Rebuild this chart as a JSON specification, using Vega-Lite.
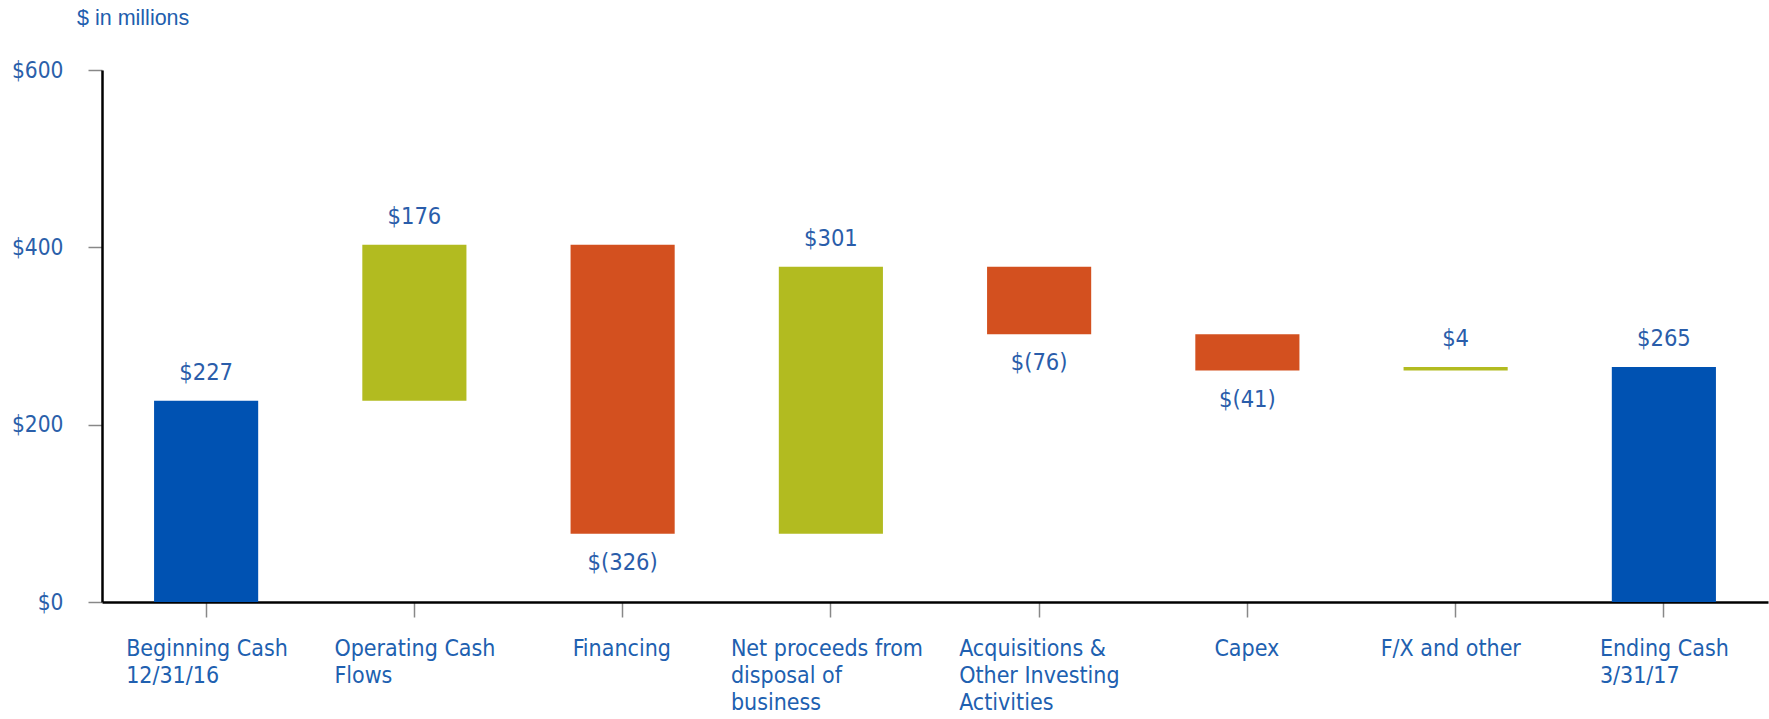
{
  "$schema": "https://vega.github.io/schema/vega-lite/v6.json",
  "autosize": {"type": "none"},
  "width": 1666,
  "height": 532,
  "padding": {"left": 102, "top": 70, "right": 1, "bottom": 117},
  "background": "white",
  "title": {
    "text": "$ in millions",
    "anchor": "start",
    "frame": "group",
    "dx": -25,
    "offset": 30,
    "font": "Liberation Sans",
    "fontSize": 21.5,
    "fontWeight": "normal",
    "color": "#1f5fae"
  },
  "config": {
    "view": {"stroke": null},
    "axis": {"grid": false, "titleFontSize": 0}
  },
  "data": {
    "values": [
      {"cat": "Beginning Cash|12/31/16", "lo": 0, "hi": 227, "type": "total", "label": "$227", "pos": "above"},
      {"cat": "Operating Cash|Flows", "lo": 227, "hi": 403, "type": "increase", "label": "$176", "pos": "above"},
      {"cat": "Financing", "lo": 77, "hi": 403, "type": "decrease", "label": "$(326)", "pos": "below"},
      {"cat": "Net proceeds from|disposal of|business", "lo": 77, "hi": 378, "type": "increase", "label": "$301", "pos": "above"},
      {"cat": "Acquisitions &|Other Investing|Activities", "lo": 302, "hi": 378, "type": "decrease", "label": "$(76)", "pos": "below"},
      {"cat": "Capex", "lo": 261, "hi": 302, "type": "decrease", "label": "$(41)", "pos": "below"},
      {"cat": "F/X and other", "lo": 261, "hi": 265, "type": "increase", "label": "$4", "pos": "above"},
      {"cat": "Ending Cash|3/31/17", "lo": 0, "hi": 265, "type": "total", "label": "$265", "pos": "above"}
    ]
  },
  "encoding": {
    "x": {
      "field": "cat",
      "type": "nominal",
      "sort": null,
      "scale": {"paddingInner": 0.5, "paddingOuter": 0.25},
      "axis": {
        "title": null,
        "labelAngle": 0,
        "labelExpr": "split(datum.value, '|')",
        "labelAlign": "left",
        "labelBaseline": "top",
        "labelOffset": {
          "condition": [
            {"test": "datum.value === 'Financing'", "value": -50},
            {"test": "datum.value === 'Net proceeds from|disposal of|business'", "value": -100},
            {"test": "datum.value === 'Capex'", "value": -33},
            {"test": "datum.value === 'F/X and other'", "value": -75},
            {"test": "datum.value === 'Ending Cash|3/31/17'", "value": -64}
          ],
          "value": -80
        },
        "labelFont": "DejaVu Sans Condensed",
        "labelFontSize": 23,
        "labelColor": "#2060b0",
        "labelLineHeight": 27,
        "labelPadding": 20,
        "labelLimit": 400,
        "domainColor": "#000000",
        "domainWidth": 2.5,
        "tickColor": "#888888",
        "tickSize": 15,
        "tickWidth": 1.5
      }
    }
  },
  "layer": [
    {
      "mark": {"type": "bar"},
      "encoding": {
        "y": {
          "field": "lo",
          "type": "quantitative",
          "scale": {"domain": [0, 600], "nice": false},
          "axis": {
            "title": null,
            "values": [0, 200, 400, 600],
            "labelExpr": "'$' + datum.value",
            "labelFont": "DejaVu Sans Condensed",
            "labelFontSize": 22.5,
            "labelColor": "#2a5faa",
            "labelPadding": 25,
            "domainColor": "#000000",
            "domainWidth": 2.5,
            "tickColor": "#888888",
            "tickSize": 14,
            "tickWidth": 1.5
          }
        },
        "y2": {"field": "hi"},
        "color": {
          "field": "type",
          "type": "nominal",
          "scale": {"domain": ["total", "increase", "decrease"], "range": ["#0052b2", "#b2bb20", "#d3501f"]},
          "legend": null
        }
      }
    },
    {
      "transform": [{"filter": "datum.pos === 'above'"}],
      "mark": {"type": "text", "baseline": "middle", "dy": -28, "font": "DejaVu Sans Condensed", "fontSize": 23.5, "color": "#2a5daa"},
      "encoding": {
        "y": {"field": "hi", "type": "quantitative"},
        "text": {"field": "label"}
      }
    },
    {
      "transform": [{"filter": "datum.pos === 'below'"}],
      "mark": {"type": "text", "baseline": "middle", "dy": 29, "font": "DejaVu Sans Condensed", "fontSize": 23.5, "color": "#2a5daa"},
      "encoding": {
        "y": {"field": "lo", "type": "quantitative"},
        "text": {"field": "label"}
      }
    }
  ]
}
